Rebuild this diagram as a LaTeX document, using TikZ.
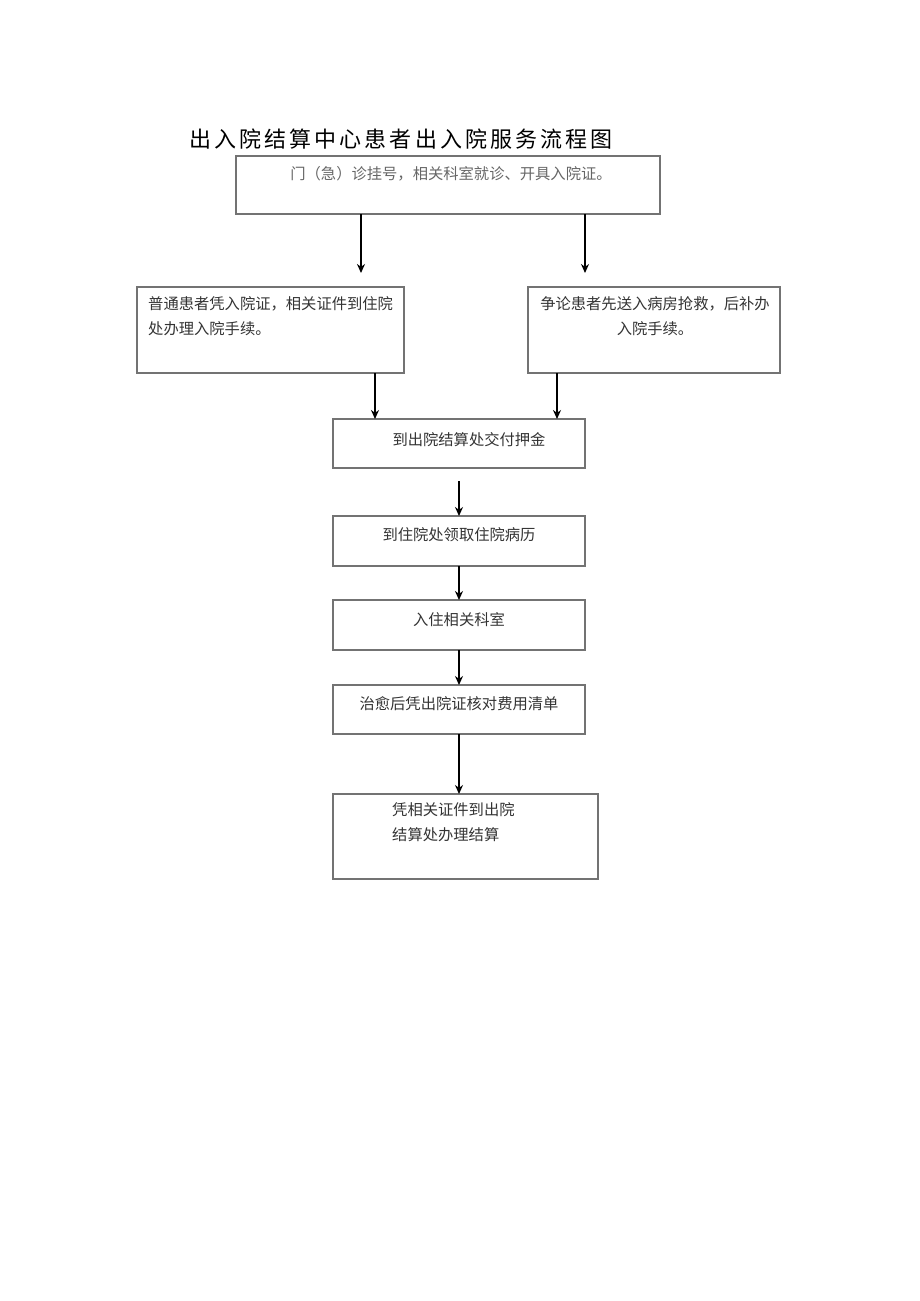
\documentclass[tikz,border=0pt]{standalone}
\usepackage{fontspec}
\newfontfamily\cjk{Noto Sans CJK SC}
\newfontfamily\cjktitle[LetterSpace=14]{Noto Sans CJK SC}
\usetikzlibrary{arrows.meta}

\tikzset{
	box/.style={draw=black!55, line width=1.1pt, anchor=north west, inner sep=0pt, outer sep=0pt},
	txt/.style={font=\cjk\fontsize{15.3}{25}\selectfont, text=black!80, inner sep=0pt},
	arr/.style={-{Stealth[length=9pt,width=8pt]}, line width=1.8pt}
}

\begin{document}
\begin{tikzpicture}[x=1pt,y=-1pt]
						\useasboundingbox (0,0) rectangle (920,1301);
						\node[font=\cjktitle\fontsize{22}{26}\selectfont, inner sep=0pt] (title) at (401,139) {出入院结算中心患者出入院服务流程图};

						% boxes
						\node[box, minimum width=424pt, minimum height=58pt] (menzhen) at (236,156) {};
						\node[box, minimum width=267pt, minimum height=86pt] (putong) at (137,287) {};
						\node[box, minimum width=252pt, minimum height=86pt] (jizhen) at (528,287) {};
						\node[box, minimum width=252pt, minimum height=49pt] (yajin) at (333,419) {};
						\node[box, minimum width=252pt, minimum height=50pt] (bingli) at (333,516) {};
						\node[box, minimum width=252pt, minimum height=50pt] (keshi) at (333,600) {};
						\node[box, minimum width=252pt, minimum height=49pt] (qingdan) at (333,685) {};
						\node[box, minimum width=265pt, minimum height=85pt] (jiesuan) at (333,794) {};

						% texts
						\node[txt, text=black!60] (t1) at (451,174) {门（急）诊挂号，相关科室就诊、开具入院证。};
						\node[txt, anchor=north west, align=left] (t2) at (148,296) {普通患者凭入院证，相关证件到住院\\处办理入院手续。};
						\node[txt, anchor=north, align=center] (t3) at (655,296) {争论患者先送入病房抢救，后补办\\入院手续。};
						\node[txt] (t4) at (469,440) {到出院结算处交付押金};
						\node[txt] (t5) at (459,535) {到住院处领取住院病历};
						\node[txt] (t6) at (459,620) {入住相关科室};
						\node[txt] (t7) at (459,704) {治愈后凭出院证核对费用清单};
						\node[txt, anchor=north west, align=left] (t8) at (392,802) {凭相关证件到出院\\结算处办理结算};

						% arrows
						\coordinate (a1) at (361,273);
						\coordinate (a2) at (585,273);
						\coordinate (a3) at (375,416);
						\coordinate (a4) at (557,416);
						\coordinate (b1) at (459,481);
						\coordinate (b2) at (459,512);
						\draw[arr] (menzhen.south -| a1) -- (a1);
						\draw[arr] (menzhen.south -| a2) -- (a2);
						\draw[arr] (putong.south -| a3) -- (yajin.north -| a3);
						\draw[arr] (jizhen.south -| a4) -- (yajin.north -| a4);
						\draw[arr] (b1) -- (bingli.north -| b1);
						\draw[arr] (bingli.south -| b1) -- (keshi.north -| b1);
						\draw[arr] (keshi.south -| b1) -- (qingdan.north -| b1);
						\draw[arr] (qingdan.south -| b1) -- (jiesuan.north -| b1);
					\end{tikzpicture}
\end{document}
